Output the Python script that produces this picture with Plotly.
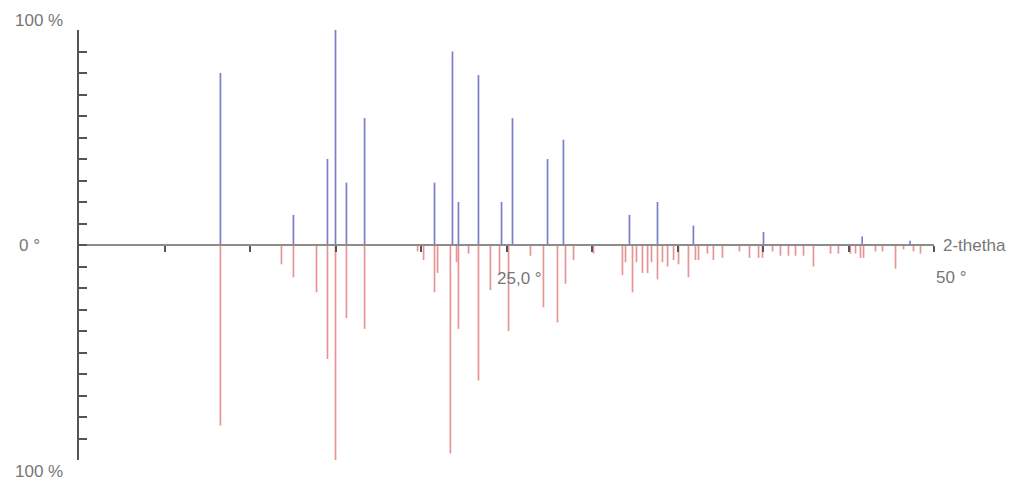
import plotly.graph_objects as go

# 2-theta positions (degrees) and relative intensities (%)
blue_theta = [8.27, 12.54, 14.53, 15.0, 15.64, 16.7, 20.79, 21.84, 22.19, 23.36,
              24.71, 25.35, 27.4, 28.33, 32.19, 33.83, 35.93, 40.03, 45.8, 48.6]
blue_int = [80, 14, 40, 100, 29, 59, 29, 90, 20, 79,
            20, 59, 40, 49, 14, 20, 9, 6, 4, 2]

red_theta = [8.27, 11.84, 12.54, 13.89, 14.53, 15.0, 15.64, 16.7, 19.8, 20.15,
             20.79, 20.97, 21.72, 22.08, 22.19, 22.78, 23.36, 24.06, 24.59, 25.12,
             26.4, 27.16, 27.98, 28.45, 28.92, 30.09, 31.78, 31.96, 32.37, 32.6,
             32.95, 33.25, 33.48, 33.83, 34.12, 34.42, 34.77, 35.06, 35.64, 36.05,
             36.23, 36.75, 37.1, 37.63, 38.62, 39.21, 39.74, 39.97, 40.56, 41.02,
             41.49, 41.9, 42.37, 42.95, 43.95, 44.41, 45.11, 45.41, 45.7, 45.88,
             46.58, 46.99, 47.75, 48.22, 48.8, 49.21]
red_int = [84, 9, 15, 22, 53, 100, 34, 39, 3, 7,
           22, 13, 97, 8, 39, 4, 63, 21, 13, 40,
           5, 29, 36, 18, 7, 4, 14, 8, 22, 8,
           13, 13, 8, 16, 8, 10, 7, 9, 15, 7,
           7, 4, 7, 6, 3, 6, 6, 6, 3, 5,
           5, 5, 5, 10, 4, 4, 4, 4, 6, 6,
           3, 3, 11, 2, 3, 4]

x_ticks = [5, 10, 15, 20, 25, 30, 35, 40, 45, 50]
y_ticks = list(range(-100, 101, 10))


def sticks(xs, hs, sign):
    px, py = [], []
    for x, h in zip(xs, hs):
        px += [x, x, None]
        py += [0, sign * h, None]
    return px, py


rx, ry = sticks(red_theta, red_int, -1)
bx, by = sticks(blue_theta, blue_int, 1)

fig = go.Figure()
fig.add_trace(go.Scatter(x=rx, y=ry, mode="lines",
                         line=dict(color="#e69494", width=1.7),
                         hoverinfo="skip", showlegend=False))
fig.add_trace(go.Scatter(x=bx, y=by, mode="lines",
                         line=dict(color="#7a7ec8", width=1.7),
                         hoverinfo="skip", showlegend=False))

font = dict(family="Liberation Sans, Arial, sans-serif", size=17, color="#777777")
ann = [
    dict(x=-0.016, y=1.023, text="100 %", xanchor="right", yanchor="middle"),
    dict(x=-0.043, y=0.5, text="0 °", xanchor="right", yanchor="middle"),
    dict(x=-0.016, y=-0.026, text="100 %", xanchor="right", yanchor="middle"),
    dict(x=1.008, y=0.5, text="2-thetha", xanchor="left", yanchor="middle"),
    dict(x=0.487, y=0.423, text="25,0 °", xanchor="left", yanchor="middle"),
    dict(x=1.0, y=0.425, text="50 °", xanchor="left", yanchor="middle"),
]
for a in ann:
    a.update(xref="paper", yref="paper", showarrow=False, font=font)

fig.update_layout(
    width=1015, height=482,
    margin=dict(l=79, r=81, t=30, b=22),
    paper_bgcolor="white", plot_bgcolor="white",
    annotations=ann,
    xaxis=dict(range=[0, 50], anchor="free", position=0.5,
               showline=True, linecolor="#8c8c8c", linewidth=2,
               ticks="outside", ticklen=6, tickwidth=1.5, tickcolor="#555",
               tickvals=x_ticks, showticklabels=False,
               showgrid=False, zeroline=False),
    yaxis=dict(range=[-100, 100], showline=True, linecolor="#555", linewidth=2,
               ticks="inside", ticklen=8, tickwidth=1.5, tickcolor="#555",
               tickvals=y_ticks, showticklabels=False,
               showgrid=False, zeroline=False),
)

fig.write_html("out.html", config={"displayModeBar": False},
               post_script="document.body.style.margin='0';")
